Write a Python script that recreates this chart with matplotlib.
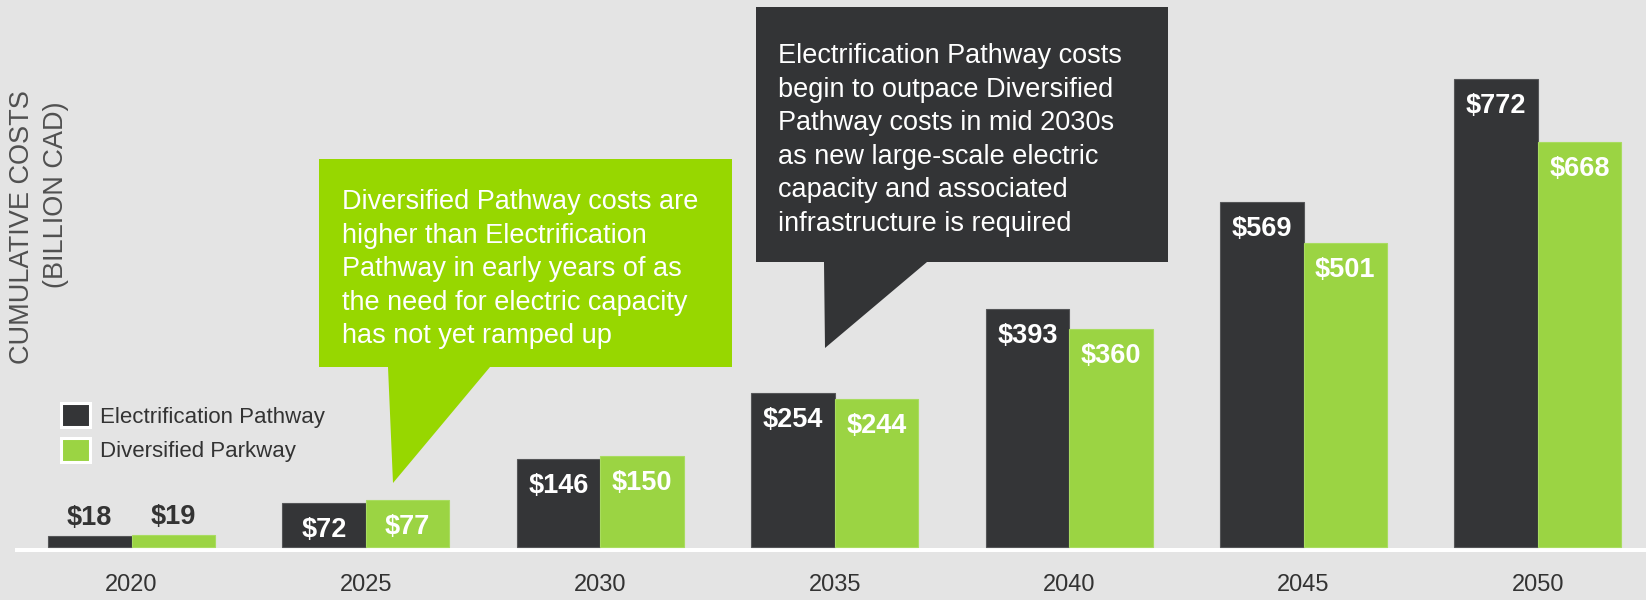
import matplotlib.pyplot as plt
import numpy as np
from matplotlib.patches import Polygon

years = ['2020', '2025', '2030', '2035', '2040', '2045', '2050']
electrification = [18, 72, 146, 254, 393, 569, 772]
diversified = [19, 77, 150, 244, 360, 501, 668]
series_names = ['Electrification Pathway', 'Diversified Parkway']

green_note = ("Diversified Pathway costs are\nhigher than Electrification\n"
              "Pathway in early years of as\nthe need for electric capacity\n"
              "has not yet ramped up")
dark_note = ("Electrification Pathway costs\nbegin to outpace Diversified\n"
             "Pathway costs in mid 2030s\nas new large-scale electric\n"
             "capacity and associated\ninfrastructure is required")
ylabel_lines = ['CUMULATIVE COSTS', '(BILLION CAD)']

W, H = 1646, 600
BG = '#e4e4e4'
DARK = '#343537'
GREEN = '#9bd443'
NOTE_GREEN = '#97d700'
TEXT = '#333333'
SANS = ['Liberation Sans', 'DejaVu Sans']


def fx(x):
    return x / W


def fy(y):
    return 1 - y / H


fig = plt.figure(figsize=(W / 100, H / 100), dpi=100, facecolor=BG)
ax = fig.add_axes([fx(15), fy(552), 1 - fx(15), 552 / H])
ax.set_facecolor(BG)

scale = 0.606   # pixels per billion
unit = 234.4    # pixels between year groups
ax.set_ylim(-5 / scale, 547 / scale)
ax.set_xlim(-(131.5 - 15) / unit, (W - 131.5) / unit)
w = 83.5 / unit
x = np.arange(len(years))

ax.axhline(-2.5 / scale, color='white', lw=3.6, zorder=1)
b1 = ax.bar(x - w / 2, electrification, w, color=DARK, edgecolor='#555658',
            linewidth=0.8, zorder=2, label=series_names[0])
b2 = ax.bar(x + w / 2, diversified, w, color=GREEN, edgecolor='#a9dc60',
            linewidth=0.8, zorder=2, label=series_names[1])

# value labels
for bars, vals in [(b1, electrification), (b2, diversified)]:
    for rect, v in zip(bars, vals):
        inside = v > 40
        ax.annotate(f'${v}', (rect.get_x() + rect.get_width() / 2, v),
                    xytext=(0, -19.5 if inside else 13), textcoords='offset points',
                    ha='center', va='center', fontsize=19.5, fontweight='bold',
                    family=SANS, color='white' if inside else TEXT, zorder=3)

ax.set_xticks(x, years)
ax.tick_params(axis='x', length=0, pad=16, labelsize=17, labelcolor=TEXT)
for t in ax.get_xticklabels():
    t.set_family(SANS)
ax.set_yticks([])
for s in ax.spines.values():
    s.set_visible(False)

leg = ax.legend(loc='upper left', bbox_to_anchor=(fx(61), fy(403)),
                bbox_transform=fig.transFigure, frameon=False,
                handlelength=1.3, handleheight=1.3, handletextpad=0.45,
                labelspacing=0.45, borderpad=0, borderaxespad=0,
                prop={'family': SANS, 'size': 16})
for h in leg.legend_handles:
    h.set_edgecolor('white')
    h.set_linewidth(2.2)
for t in leg.get_texts():
    t.set_color(TEXT)

# y axis title
fig.text(fx(22.5), fy(227), ylabel_lines[0], rotation=90, ha='center', va='center',
         fontsize=19.5, family=SANS, color='#505050')
fig.text(fx(56), fy(195), ylabel_lines[1], rotation=90, ha='center', va='center',
         fontsize=19.5, family=SANS, color='#505050')

# callouts
green_box = [(319, 159), (732, 159), (732, 367), (490, 367), (393, 483), (388, 367), (319, 367)]
dark_box = [(756, 7), (1168, 7), (1168, 262), (927, 262), (825, 348), (824, 262), (756, 262)]
for pts, col in [(green_box, NOTE_GREEN), (dark_box, '#333436')]:
    fig.add_artist(Polygon([(fx(a), fy(b)) for a, b in pts], closed=True,
                           transform=fig.transFigure, facecolor=col,
                           edgecolor='none', zorder=5))

fig.text(fx(342), fy(189), green_note, ha='left', va='top', fontsize=19.5,
         family=SANS, color='white', linespacing=1.38, zorder=6)
fig.text(fx(778), fy(43), dark_note, ha='left', va='top', fontsize=19.5,
         family=SANS, color='white', linespacing=1.38, zorder=6)

fig.savefig('out.png', dpi=100, facecolor=BG)
